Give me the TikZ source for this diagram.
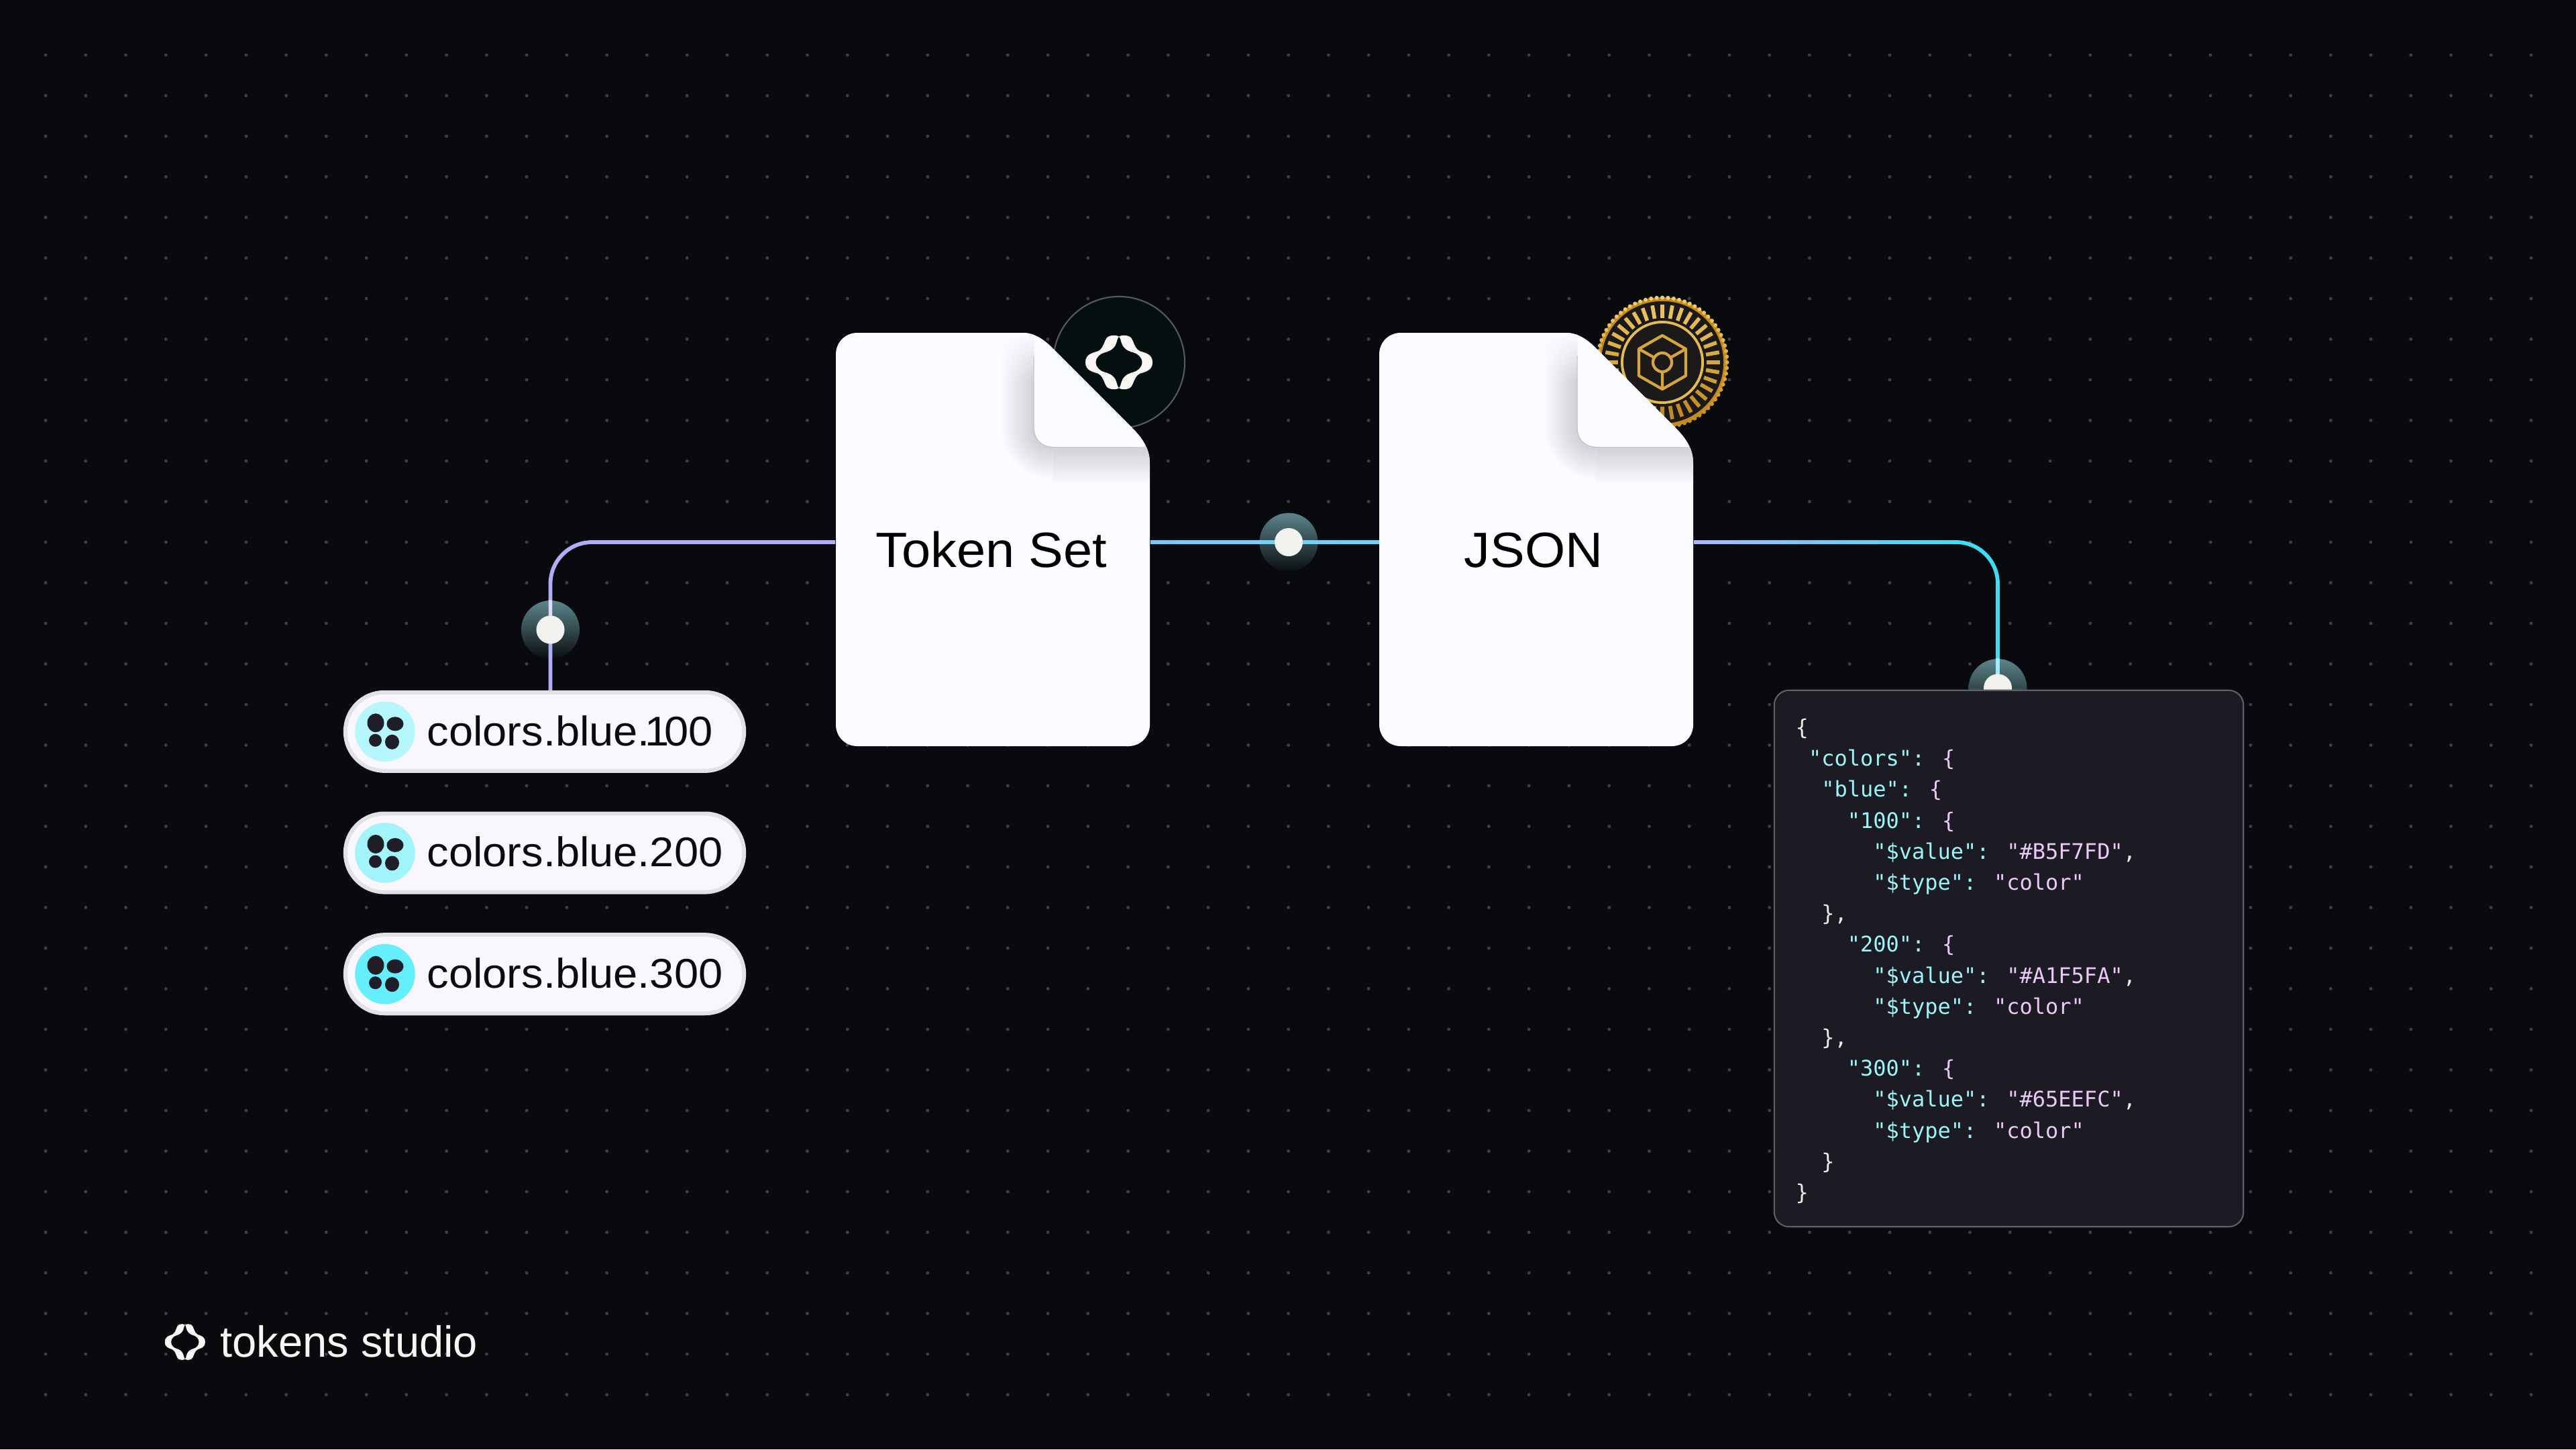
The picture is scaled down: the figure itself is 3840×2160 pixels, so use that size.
\documentclass[tikz,border=0pt]{standalone}
\usepackage{fontspec}
\setmainfont{Liberation Sans}
\newfontfamily\stretchfont[FakeStretch=1.05]{Liberation Sans}
\newfontfamily\codefont{DejaVu Sans Mono}
\usetikzlibrary{calc,fadings}
\definecolor{pagebg}{HTML}{090A0D}
\definecolor{griddot}{HTML}{3E3E42}
\definecolor{docpaper}{HTML}{FBFCFF}
\definecolor{docshade}{HTML}{D0D0D5}
\definecolor{flapedge}{HTML}{BEBEC4}
\definecolor{linklilac}{HTML}{B2AEF6}
\definecolor{linkblue}{HTML}{7CC8F8}
\definecolor{linksky}{HTML}{6CD2F7}
\definecolor{linkstart}{HTML}{A8B8FB}
\definecolor{linkcyan}{HTML}{3FDCF5}
\definecolor{haloup}{HTML}{5C858B}
\definecolor{halodown}{HTML}{0A0D10}
\definecolor{knobwhite}{HTML}{F3F2EE}
\definecolor{pillfill}{HTML}{FAF6FE}
\definecolor{pillline}{HTML}{E2E2E2}
\definecolor{inkdark}{HTML}{0B0A10}
\definecolor{blobdark}{HTML}{1F1E29}
\definecolor{cardfill}{HTML}{1C1B23}
\definecolor{cardline}{HTML}{5F5E63}
\definecolor{codekey}{HTML}{9BF5F8}
\definecolor{codeval}{HTML}{EBC8F7}
\definecolor{codeplain}{HTML}{ECEAE6}
\definecolor{coinhi}{HTML}{F2CF6C}
\definecolor{coinlo}{HTML}{C48A22}
\definecolor{coindark}{HTML}{1B1A18}
\definecolor{badgefill}{HTML}{040F0F}
\definecolor{badgeline}{HTML}{55595A}
\definecolor{logowhite}{HTML}{F7F6F2}
\newcommand{\ck}[1]{\textcolor{codekey}{#1}}
\newcommand{\cv}[1]{\textcolor{codeval}{#1}}
\newcommand{\cw}[1]{\textcolor{codeplain}{#1}}
% sheet outline, one outline for both files
\newcommand{\docoutline}{(1278,496) -- (1523,496) .. controls (1540,496) and (1553,503) .. (1567,517)
	-- (1687,637) .. controls (1705,655) and (1714,670) .. (1714,691)
	-- (1714,1080) .. controls (1714,1098) and (1700,1112) .. (1682,1112)
	-- (1278,1112) .. controls (1260,1112) and (1246,1098) .. (1246,1080)
	-- (1246,528) .. controls (1246,510) and (1260,496) .. (1278,496) -- cycle}
\tikzset{
	linkline/.style={line width=1.65pt},
	halo/.style={circle, inner sep=0pt, minimum size=0.87cm, top color=haloup, bottom color=halodown},
	knob/.style={circle, inner sep=0pt, minimum size=0.42cm, fill=knobwhite},
	docanchor/.style={rectangle, inner sep=0pt, minimum width=4.68cm, minimum height=6cm},
	doclabel/.style={anchor=base, inner sep=0pt, text=black, font=\stretchfont\fontsize{21pt}{25pt}\selectfont},
	pillbox/.style={rectangle, rounded corners=0.58cm, draw=pillline, fill=pillfill, line width=1.7pt,
		minimum width=5.94cm, minimum height=1.17cm, inner sep=0pt},
	pilllabel/.style={anchor=base west, inner sep=0pt, text=inkdark, font=\stretchfont\fontsize{17.6pt}{20pt}\selectfont},
	swatch/.style={circle, inner sep=0pt, minimum size=0.895cm},
	codecard/.style={rectangle, rounded corners=0.22cm, draw=cardline, fill=cardfill, line width=0.6pt,
		minimum width=6.99cm, minimum height=7.99cm, inner sep=0pt},
	codeline/.style={anchor=base west, inner sep=0pt, font=\codefont\fontsize{9.1pt}{11pt}\selectfont},
	tokenmark/.pic={
		\foreach \s in {1,-1} {
			\foreach \t in {1,-1} {
				\fill[logowhite, xscale=\s, yscale=\t] (0,0.96) .. controls (-0.08,1.02) and (-0.2,1.02) .. (-0.3,0.97)
					.. controls (-0.45,0.9) and (-0.42,0.55) .. (-0.62,0.42)
					.. controls (-0.8,0.35) and (-1,0.3) .. (-1,0) -- (-0.69,0)
					.. controls (-0.69,0.2) and (-0.55,0.33) .. (-0.42,0.37)
					.. controls (-0.2,0.43) and (-0.1,0.6) .. (-0.07,0.75)
					.. controls (-0.05,0.85) and (-0.03,0.92) .. (0,0.96) -- cycle;
			}
		}
	}
}
\begin{document}
\begin{tikzpicture}[x=0.01cm, y=-0.01cm, line join=round]
	\useasboundingbox (0,0) rectangle (3840,2160);
	\fill[pagebg] (0,0) rectangle (3840,2160);
	% dot grid
	\foreach \i in {0,...,62} {
		\foreach \j in {0,...,33} {
			\fill[griddot] (68+59.76*\i,82+60.5*\j) circle (0.025cm);
		}
	}
	% badge behind first file
	\node[circle, inner sep=0pt, minimum size=1.96cm, fill=badgefill, draw=badgeline, line width=0.6pt] (setbadge) at (1668,540) {};
	\pic[xscale=50, yscale=40] at (setbadge.center) {tokenmark};
	% coin behind second file
	\node[circle, inner sep=0pt, minimum size=1.88cm, fill=coindark, draw=coinlo, line width=1.6pt] (coin) at (2478,540) {};
	\foreach \a in {0,5,...,355} {
		\pgfmathtruncatemacro\mix{50-50*sin(\a)}
		\fill[coinhi!\mix!coinlo] ($(coin)+(\a:96.5)$) circle (0.03cm);
	}
	\foreach \a in {0,10,...,350} {
		\pgfmathtruncatemacro\mix{40-40*sin(\a)}
		\draw[coinhi!\mix!coinlo, line width=1.6pt] ($(coin)+(\a:66)$) -- ($(coin)+(\a:86)$);
	}
	\draw[coinhi!70!coinlo, line width=1.1pt] (coin) circle (0.6cm);
	\draw[coinhi!40!coinlo, line width=1.2pt] ($(coin)+(0,-40)$) -- ($(coin)+(35,-20)$) -- ($(coin)+(35,20)$)
		-- ($(coin)+(0,40)$) -- ($(coin)+(-35,20)$) -- ($(coin)+(-35,-20)$) -- cycle;
	\draw[coinhi!40!coinlo, line width=1.2pt] (coin) circle (0.14cm);
	\draw[coinhi!40!coinlo, line width=1.2pt] ($(coin)+(-35,-20)$) -- ($(coin)+(-12,-7)$)
		($(coin)+(35,-20)$) -- ($(coin)+(12,-7)$) ($(coin)+(0,40)$) -- ($(coin)+(0,14)$);
	% anchors of the two files
	\node[docanchor] (tokenset) at (1480,808) {};
	\node[docanchor] (jsonset) at (2290,808) {};
	\coordinate (bendright) at (2916,808);
	% halos and connectors
	\node[halo] (dotset) at (820.5,938.5) {};
	\node[halo] (dotmid) at (1921,808) {};
	\node[halo] (dotcard) at (2978,1025.5) {};
	\draw[linkline, linklilac, rounded corners=0.62cm] (dotset |- 0,1030) -- (dotset |- tokenset.west) -- (tokenset.west);
	\draw[linkline, linklilac!45!white] (dotset.north) -- (dotset.center);
	\foreach \i in {0,...,19} {
		\pgfmathtruncatemacro\pct{5*\i}
		\draw[linkline, linksky!\pct!linkblue] ($(tokenset.east)!\i/20!(jsonset.west)$) -- ($(tokenset.east)!\i/20+0.055!(jsonset.west)$);
		\draw[linkline, linkcyan!\pct!linkstart] ($(jsonset.east)!\i/20!(bendright)$) -- ($(jsonset.east)!\i/20+0.055!(bendright)$);
	}
	\draw[linkline, linkcyan, rounded corners=0.62cm] (bendright) -- (dotcard |- bendright) -- (dotcard.center);
	\draw[linkline, linkcyan!50!white] (dotcard.north) -- (dotcard.center);
	\node[knob] (knobset) at (dotset) {};
	\node[knob] (knobmid) at (dotmid) {};
	\node[knob] (knobcard) at (dotcard) {};
	% the two files
	\foreach \dx/\name/\txt/\lx in {0/tokensetlabel/Token Set/1478, 810/jsonsetlabel/JSON/1476} {
		\begin{scope}[shift={(\dx,0)}]
			\fill[docpaper] \docoutline;
			\begin{scope}
				\clip \docoutline;
				\shade[left color=docpaper, right color=docshade] (1491,496) rectangle (1541.7,638);
				\fill[docpaper, path fading=south] (1491,496) rectangle (1541.7,570);
				\shade[top color=docshade, bottom color=docpaper] (1569,666) rectangle (1714,722);
				\begin{scope}
					\clip (1491,638) rectangle (1569,722);
					\foreach \k in {0,...,25} {
						\pgfmathtruncatemacro\pct{4*\k}
						\fill[docshade!\pct!docpaper] (1569,638) circle ({(78-2*\k)*0.01cm});
					}
				\end{scope}
			\end{scope}
			\draw[flapedge, line width=0.6pt] (1541.7,530) -- (1541.7,636) .. controls (1541.7,655) and (1553,666) .. (1573,666) -- (1695,666);
			\fill[docpaper] (1541.7,503) -- (1541.7,636) .. controls (1541.7,655) and (1553,666) .. (1573,666)
				-- (1708,666) .. controls (1703,654) and (1696,646) .. (1687,637) -- (1567,517)
				.. controls (1558,508) and (1550,504) .. (1541.7,503) -- cycle;
			\node[doclabel] (\name) at (\lx,845.5) {\txt};
		\end{scope}
	}
	% token pills
	\foreach \val/\lab/\tone/\y in {100/{\kern-0.12em 1\kern-0.12em 00}/B5F7FD/1090.3, 200/200/A1F5FA/1271, 300/300/65EEFC/1451.7} {
		\definecolor{swatchtone}{HTML}{\tone}
		\node[pillbox] (pill\val) at (812,\y) {};
		\node[swatch, fill=swatchtone] (swatch\val) at (574,\y) {};
		\fill[blobdark] (560,\y-13) ellipse (0.125cm and 0.14cm);
		\fill[blobdark] (589,\y-11.5) ellipse (0.125cm and 0.105cm);
		\fill[blobdark] (559.5,\y+13) ellipse (0.095cm and 0.095cm);
		\fill[blobdark] (584.5,\y+15.5) ellipse (0.105cm and 0.11cm);
		\node[pilllabel] (label\val) at (636,\y+20.8) {colors.blue.\lab};
	}
	% json card
	\node[codecard] (jsoncard) at (2994.5,1428.5) {};
	\foreach \row/\col/\txt in {
		0/0/{\cw{\{}},
		1/1/{\ck{"colors":} \cv{\{}},
		2/2/{\ck{"blue":} \cv{\{}},
		3/4/{\ck{"100":} \cv{\{}},
		4/6/{\ck{"\$value":} \cv{"\#B5F7FD"}\cw{,}},
		5/6/{\ck{"\$type":} \cv{"color"}},
		6/2/{\cw{\},}},
		7/4/{\ck{"200":} \cv{\{}},
		8/6/{\ck{"\$value":} \cv{"\#A1F5FA"}\cw{,}},
		9/6/{\ck{"\$type":} \cv{"color"}},
		10/2/{\cw{\},}},
		11/4/{\ck{"300":} \cv{\{}},
		12/6/{\ck{"\$value":} \cv{"\#65EEFC"}\cw{,}},
		13/6/{\ck{"\$type":} \cv{"color"}},
		14/2/{\cw{\}}},
		15/0/{\cw{\}}}} {
		\node[codeline] (code\row) at (2676+19.26*\col,1095.4+46.2*\row) {\txt};
	}
	% logo bottom left
	\pic[xscale=30, yscale=26.7] at (275.8,2000) {tokenmark};
	\node[anchor=base west, inner sep=0pt, text=logowhite, font=\fontsize{18.5pt}{22pt}\selectfont] (brand) at (328,2022.5) {tokens studio};
\end{tikzpicture}
\end{document}
